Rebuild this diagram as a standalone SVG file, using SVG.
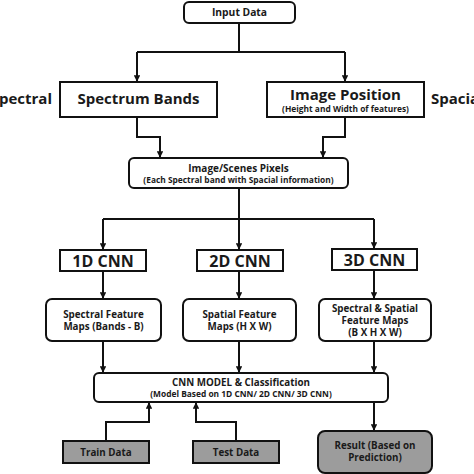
<svg xmlns="http://www.w3.org/2000/svg" width="474" height="474" viewBox="0 0 474 474">
<defs>
<marker id="ah" viewBox="0 0 10 10" refX="9" refY="5" markerWidth="3.2" markerHeight="3.2" orient="auto" markerUnits="strokeWidth">
<path d="M0,0 L10,5 L0,10 z" fill="#111"/>
</marker>
<style>
.box{fill:#fff;stroke:#111;stroke-width:2}
.gray{fill:#9c9c9c;stroke:#111;stroke-width:2}
.ln{fill:none;stroke:#111;stroke-width:2}
text{font-family:"Open Sans","Liberation Sans",Arial,sans-serif;font-weight:bold;fill:#1a1a1a;text-anchor:middle}
.big{font-size:15px}
.cnn{font-size:16px}
.med{font-size:9.8px}
.sm{font-size:8.4px}
</style>
</defs>
<rect width="474" height="474" fill="#fff"/>
<g id="connectors">
<path class="ln" d="M239,23 V52"/>
<path class="ln" d="M137,52 H345"/>
<path class="ln" d="M137,52 V81" marker-end="url(#ah)"/>
<path class="ln" d="M345,52 V81" marker-end="url(#ah)"/>
<path class="ln" d="M137,117 V137 H160 V157" marker-end="url(#ah)"/>
<path class="ln" d="M345,117 V137 H323 V157" marker-end="url(#ah)"/>
<path class="ln" d="M239,188 V249" marker-end="url(#ah)"/>
<path class="ln" d="M103,219 H374"/>
<path class="ln" d="M103,219 V249" marker-end="url(#ah)"/>
<path class="ln" d="M374,219 V248" marker-end="url(#ah)"/>
<path class="ln" d="M103,271 V298" marker-end="url(#ah)"/>
<path class="ln" d="M239,271 V298" marker-end="url(#ah)"/>
<path class="ln" d="M374,270 V298" marker-end="url(#ah)"/>
<path class="ln" d="M103,341 V372" marker-end="url(#ah)"/>
<path class="ln" d="M239,341 V372" marker-end="url(#ah)"/>
<path class="ln" d="M374,341 V372" marker-end="url(#ah)"/>
<path class="ln" d="M106,441 V422 H149 V403" marker-end="url(#ah)"/>
<path class="ln" d="M236,441 V422 H196 V403" marker-end="url(#ah)"/>
<path class="ln" d="M374,402 V430" marker-end="url(#ah)"/>
</g>
<g id="input">
<rect class="box" x="184" y="2" width="111" height="21" rx="5"/>
<text x="239.5" y="16" style="font-size:10.3px">Input Data</text>
</g>
<g id="label-spectral">
<text class="big" x="52" y="104" style="text-anchor:end">Spectral</text>
</g>
<g id="label-spacial">
<text class="big" x="431" y="104" style="text-anchor:start">Spacial</text>
</g>
<g id="spectrum">
<rect class="box" x="60" y="82" width="157" height="35"/>
<text class="big" x="138.5" y="104">Spectrum Bands</text>
</g>
<g id="position">
<rect class="box" x="267" y="82" width="157" height="35"/>
<text class="big" x="345.5" y="100">Image Position</text>
<text class="sm" x="345.5" y="111.5">(Height and Width of features)</text>
</g>
<g id="pixels">
<rect class="box" x="129" y="158" width="219" height="30" rx="5"/>
<text x="238.5" y="172" style="font-size:10px">Image/Scenes Pixels</text>
<text class="sm" x="238.5" y="183">(Each Spectral band with Spacial information)</text>
</g>
<g id="cnn1">
<rect class="box" x="60" y="250" width="86" height="21"/>
<text class="cnn" x="103" y="266.5">1D CNN</text>
</g>
<g id="cnn2">
<rect class="box" x="197" y="250" width="86" height="21"/>
<text class="cnn" x="240" y="266.5">2D CNN</text>
</g>
<g id="cnn3">
<rect class="box" x="332" y="249" width="85" height="21"/>
<text class="cnn" x="374.5" y="265.5">3D CNN</text>
</g>
<g id="fm1">
<rect class="box" x="46" y="299" width="115" height="42" rx="6"/>
<text class="med" x="103.5" y="318">Spectral Feature</text>
<text class="med" x="103.5" y="330">Maps (Bands - B)</text>
</g>
<g id="fm2">
<rect class="box" x="183" y="299" width="113" height="42" rx="6"/>
<text class="med" x="239.5" y="318">Spatial Feature</text>
<text class="med" x="239.5" y="330">Maps (H X W)</text>
</g>
<g id="fm3">
<rect class="box" x="319" y="299" width="112" height="42" rx="6"/>
<text class="med" x="375" y="312">Spectral &amp; Spatial</text>
<text class="med" x="375" y="324">Feature Maps</text>
<text class="med" x="375" y="336">(B X H X W)</text>
</g>
<g id="model">
<rect class="box" x="94" y="373" width="294" height="29" rx="5"/>
<text class="med" x="241" y="385.5">CNN MODEL &amp; Classification</text>
<text class="sm" x="241" y="397">(Model Based on 1D CNN/ 2D CNN/ 3D CNN)</text>
</g>
<g id="train">
<rect class="gray" x="63" y="441" width="86" height="22"/>
<text class="med" x="106" y="455.5">Train Data</text>
</g>
<g id="test">
<rect class="gray" x="193" y="441" width="86" height="22"/>
<text class="med" x="236" y="455.5">Test Data</text>
</g>
<g id="result">
<rect class="gray" x="318" y="431" width="114" height="42" rx="7"/>
<text class="med" x="375" y="449">Result (Based on</text>
<text class="med" x="375" y="461">Prediction)</text>
</g>
</svg>
